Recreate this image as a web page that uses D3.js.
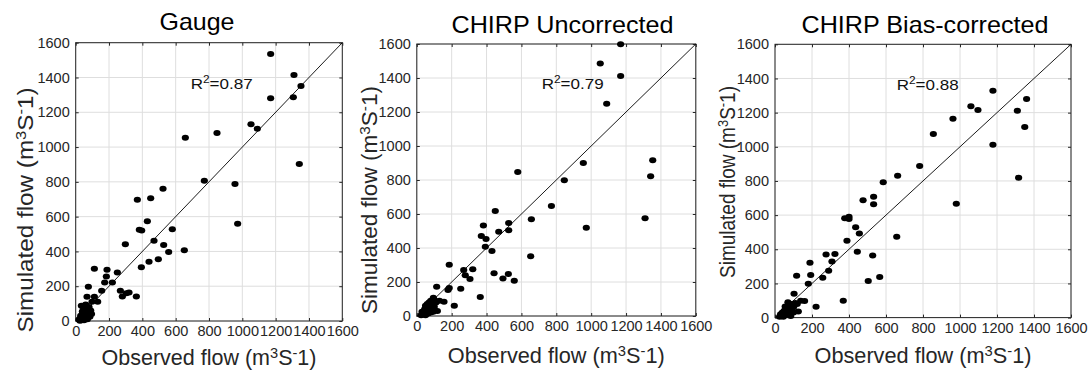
<!DOCTYPE html>
<html><head><meta charset="utf-8">
<script src="https://cdn.jsdelivr.net/npm/d3@7"></script>
<style>
body{margin:0;background:#fff}
svg{display:block}
text{font-family:"Liberation Sans",Arial,Helvetica,sans-serif}
</style>
</head><body>
<svg id="c" width="1091" height="370"></svg>
<script>
// ---------- data ----------
const titles = ["Gauge", "CHIRP Uncorrected", "CHIRP Bias-corrected"];
const r2Values = ["0.87", "0.79", "0.88"];
const tickValues = [0, 200, 400, 600, 800, 1000, 1200, 1400, 1600];
const xLabelText = "Observed flow";
const yLabelText = "Simulated flow";

const gaugeObs = [1170,1310,1352,1170,1306,1052,1090,848,658,1342,772,956,972,370,450,524,430,382,396,580,470,298,528,558,652,496,440,394,112,188,184,250,174,220,156,76,268,280,304,320,364,68,112,132,98,34,44,52,70,80,40,30,50,60,75,85,45,35,25,55,65,70,90,80,60,40,20,30,50,80,62,95];
const gaugeSim = [1535,1414,1351,1280,1286,1131,1106,1081,1054,903,806,788,559,697,705,760,573,525,521,527,462,441,437,397,407,355,340,309,300,294,256,279,222,222,174,197,174,141,159,164,141,139,139,111,111,88,82,60,70,50,40,20,30,45,35,25,10,5,2,15,20,10,60,80,95,55,8,30,5,40,62,40];

const chirpObs = [1169,1052,1169,1089,955,1353,1341,846,1309,972,579,772,450,657,527,382,470,527,370,397,393,431,653,186,269,321,278,305,443,525,494,559,364,114,186,179,252,215,118,156,95,100,80,70,60,50,85,90,75,60,45,40,35,30,50,65,80,100,110,130,55,25,70,95];
const chirpSim = [1598,1486,1412,1249,900,916,822,798,575,519,847,647,618,569,547,533,496,504,471,453,408,382,351,302,271,275,239,218,251,247,220,208,112,172,165,153,161,61,29,84,108,95,90,80,70,60,60,40,45,30,40,20,10,25,5,15,20,55,80,90,50,5,55,25];

const biasObs = [1178,1360,1059,1097,1310,962,1350,856,1178,782,1317,980,663,585,533,533,476,377,400,400,436,456,658,389,445,528,324,276,308,290,258,189,193,180,117,504,566,369,103,222,160,139,126,90,80,70,60,50,40,30,35,45,60,75,90,100,110,55,65,85,25,50,100,120,70];
const biasSim = [1328,1280,1237,1215,1211,1164,1116,1075,1012,887,819,667,831,792,708,663,687,581,591,577,529,493,474,450,386,364,372,370,329,275,234,321,249,198,245,214,238,99,140,64,97,99,35,80,70,60,50,40,30,20,10,5,15,25,40,60,85,65,35,10,5,20,30,80,90];

const seriesObs = [gaugeObs, chirpObs, biasObs];
const seriesSim = [gaugeSim, chirpSim, biasSim];

// ---------- layout (pixels) ----------
const layout = [
  {x0:75.7, x1:342.3, y0:42.7, y1:321,  tX:197,   tY:30,   tL:75,  xlY:365, xlL:215, ylX:33,  ylY:210, ylL:245, r2X:190.7, r2Y:88.5},
  {x0:416.8,x1:695.8, y0:44,   y1:316,  tX:562.5, tY:32.5, tL:222, xlY:363, xlL:217, ylX:377, ylY:200, ylL:228, r2X:541.7, r2Y:89},
  {x0:775,  x1:1071,  y0:44.3, y1:317.6,tX:925,   tY:33,   tL:247, xlY:363, xlL:217, ylX:735, ylY:182, ylL:192, r2X:896.7, r2Y:90}
];

const svg = d3.select("#c");
const axisColor = "#262626";

function flowLabel(t, prefix) {
  t.append("tspan").text(prefix + " (m");
  t.append("tspan").attr("dy", -7).attr("font-size", "0.68em").text("3");
  t.append("tspan").attr("dy", 7).text("S");
  t.append("tspan").attr("dy", -7).attr("font-size", "0.68em").text("-");
  t.append("tspan").attr("dy", 7).text("1)");
}

layout.forEach((L, i) => {
  const x = d3.scaleLinear().domain([0, 1600]).range([L.x0, L.x1]);
  const y = d3.scaleLinear().domain([0, 1600]).range([L.y1, L.y0]);
  const g = svg.append("g");

  // grid
  g.append("g").selectAll("line").data(tickValues).join("line")
    .attr("x1", d => x(d)).attr("x2", d => x(d)).attr("y1", L.y0).attr("y2", L.y1)
    .attr("stroke", "#dedede").attr("stroke-width", 1);
  g.append("g").selectAll("line").data(tickValues).join("line")
    .attr("y1", d => y(d)).attr("y2", d => y(d)).attr("x1", L.x0).attr("x2", L.x1)
    .attr("stroke", "#dedede").attr("stroke-width", 1);

  // axes
  const fmt = d3.format("d");
  g.append("g").attr("transform", `translate(0,${L.y1})`)
    .call(d3.axisBottom(x).tickValues(tickValues).tickFormat(fmt).tickSizeInner(-3).tickSizeOuter(0).tickPadding(5));
  g.append("g").attr("transform", `translate(${L.x0},0)`)
    .call(d3.axisLeft(y).tickValues(tickValues).tickFormat(fmt).tickSizeInner(-3).tickSizeOuter(0).tickPadding(6));
  g.append("g").attr("transform", `translate(0,${L.y0})`)
    .call(d3.axisTop(x).tickValues(tickValues).tickFormat("").tickSizeInner(-3).tickSizeOuter(0));
  g.append("g").attr("transform", `translate(${L.x1},0)`)
    .call(d3.axisRight(y).tickValues(tickValues).tickFormat("").tickSizeInner(-3).tickSizeOuter(0));
  g.selectAll(".domain").remove();
  g.selectAll(".tick line").attr("stroke", axisColor);
  g.selectAll(".tick text").attr("fill", axisColor).attr("font-size", 14.5)
    .attr("font-family", '"Liberation Sans",Arial,sans-serif');

  // frame
  g.append("rect").attr("x", L.x0).attr("y", L.y0)
    .attr("width", L.x1 - L.x0).attr("height", L.y1 - L.y0)
    .attr("fill", "none").attr("stroke", axisColor).attr("stroke-width", 1);

  // 1:1 line
  g.append("line")
    .attr("x1", x(0)).attr("y1", y(0)).attr("x2", x(1600)).attr("y2", y(1600))
    .attr("stroke", "#000").attr("stroke-width", 0.9);

  // points
  const pts = seriesObs[i].map((o, k) => [o, seriesSim[i][k]]);
  g.append("g").selectAll("ellipse").data(pts).join("ellipse")
    .attr("cx", d => x(d[0])).attr("cy", d => y(d[1]))
    .attr("rx", 3.6).attr("ry", 3.0).attr("fill", "#000");

  // R^2
  const r = g.append("text").attr("x", L.r2X).attr("y", L.r2Y)
    .attr("font-size", 15).attr("fill", "#111")
    .attr("textLength", 62).attr("lengthAdjust", "spacingAndGlyphs");
  r.append("tspan").text("R");
  r.append("tspan").attr("dy", -6).attr("font-size", "0.7em").text("2");
  r.append("tspan").attr("dy", 6).text("=" + r2Values[i]);

  // title
  g.append("text").attr("x", L.tX).attr("y", L.tY).attr("text-anchor", "middle")
    .attr("font-size", 24).attr("fill", "#000")
    .attr("textLength", L.tL).attr("lengthAdjust", "spacingAndGlyphs")
    .text(titles[i]);

  // x label
  const xl = g.append("text").attr("x", (L.x0 + L.x1) / 2).attr("y", L.xlY)
    .attr("text-anchor", "middle").attr("font-size", 21.5).attr("fill", axisColor)
    .attr("textLength", L.xlL).attr("lengthAdjust", "spacingAndGlyphs");
  flowLabel(xl, xLabelText);

  // y label
  const yl = g.append("text")
    .attr("transform", `translate(${L.ylX},${L.ylY}) rotate(-90)`)
    .attr("text-anchor", "middle").attr("font-size", 21.5).attr("fill", axisColor)
    .attr("textLength", L.ylL).attr("lengthAdjust", "spacingAndGlyphs");
  flowLabel(yl, yLabelText);
});
</script>
</body></html>
